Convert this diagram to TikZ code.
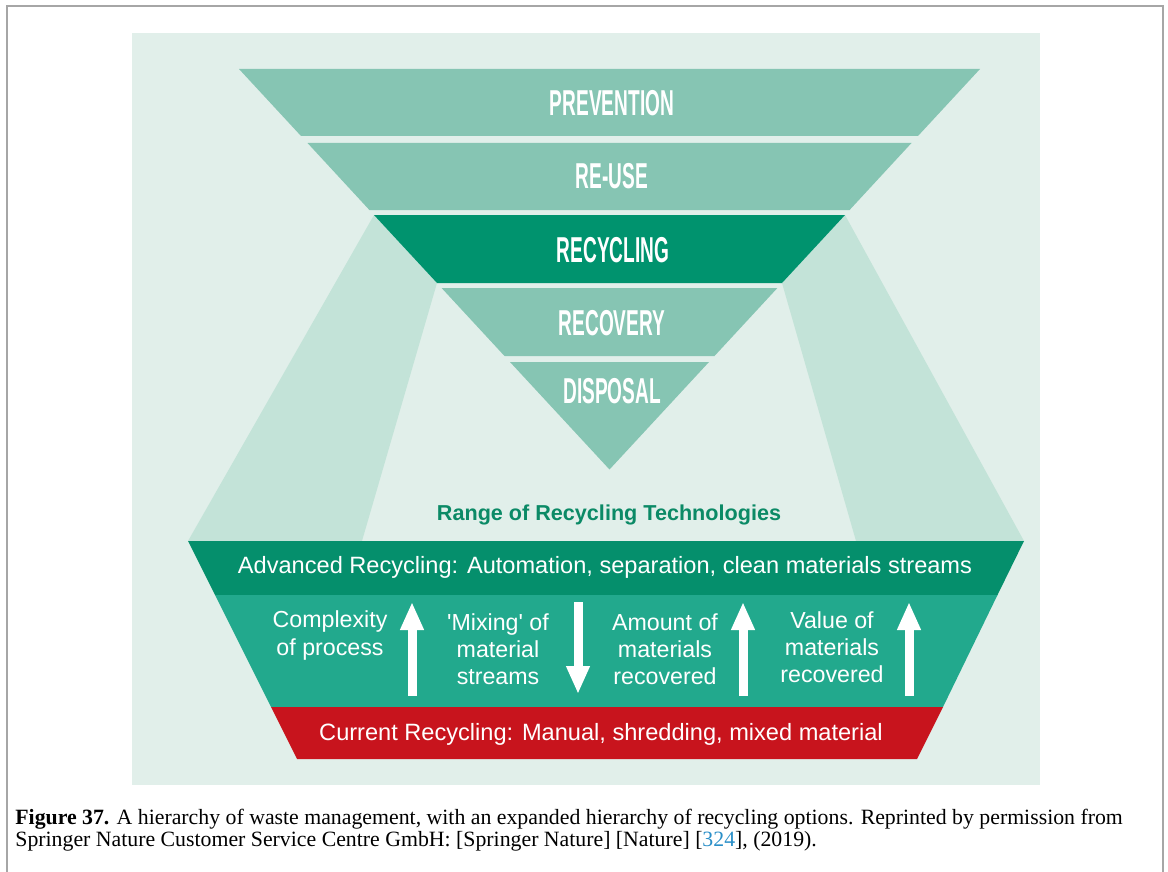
\documentclass[tikz,border=0pt]{standalone}
\usepackage{fontspec}
\setmainfont{Liberation Serif}
\newfontfamily\labelfont{Liberation Sans}
\newfontfamily\tierfont[FakeStretch=0.53]{Liberation Sans}
\usetikzlibrary{arrows.meta}

\definecolor{mintbg}{HTML}{E1EFEA}
\definecolor{tierlight}{HTML}{86C5B3}
\definecolor{tierdark}{HTML}{00936E}
\definecolor{wingmint}{HTML}{C3E3D8}
\definecolor{advgreen}{HTML}{058F6C}
\definecolor{midteal}{HTML}{22A98D}
\definecolor{currred}{HTML}{C8141D}
\definecolor{rangegreen}{HTML}{0B8A66}
\definecolor{refblue}{HTML}{2A8FC8}
\definecolor{framegray}{HTML}{A6A6A6}

\tikzset{
  tier/.style={text=white, font=\tierfont\bfseries\fontsize{18}{18}\selectfont},
  bandtext/.style={text=white, font=\labelfont\fontsize{11.8}{14}\selectfont},
  flowtext/.style={text=white, align=center, font=\labelfont\fontsize{11.6}{13.6}\selectfont},
  blockarrow/.style={white, line width=4.5pt, -{Triangle[width=11pt,length=14pt]}}
}

\begin{document}
\begin{tikzpicture}[x=0.5pt, y=-0.5pt]
    \useasboundingbox (0,0) rectangle (1168,872);

    % Draw frame and background
    \draw[framegray, line width=1pt] (7,872) -- (7,6) -- (1163,6) -- (1163,872);
    \fill[mintbg] (132,33) rectangle (1040,785);

    % Draw the wings joining recycling to the range of technologies
    \fill[wingmint] (374,215) -- (188,541) -- (362,541) -- (437,283) -- cycle;
    \fill[wingmint] (845,215) -- (1024,541) -- (856,541) -- (782,283) -- cycle;

    % Draw the inverted hierarchy, one band per tier
    \fill[tierlight] (239,69) -- (980,69) -- (918,136) -- (301,136) -- cycle;
    \fill[tierlight] (307.5,143) -- (911.5,143) -- (849.6,210) -- (369.4,210) -- cycle;
    \fill[tierdark] (374,215) -- (845,215) -- (782,283) -- (437,283) -- cycle;
    \fill[tierlight] (441.6,288) -- (777.4,288) -- (714.5,356) -- (504.5,356) -- cycle;
    \fill[tierlight] (510,362) -- (709,362) -- (609.5,469.5) -- cycle;

    \node[tier] (prevention) at (612,103) {PREVENTION};
    \node[tier] (reuse) at (612,176) {RE-USE};
    \node[tier] (recycling) at (613,250) {RECYCLING};
    \node[tier] (recovery) at (612,323) {RECOVERY};
    \node[tier] (disposal) at (612,391) {DISPOSAL};

    % Draw the expanded range of recycling options
    \node[text=rangegreen, font=\labelfont\bfseries\fontsize{10.8}{12}\selectfont] (range) at (609,515) {Range of Recycling Technologies};

    \fill[advgreen] (188,541) -- (1024,541) -- (997.5,595) -- (215,595) -- cycle;
    \fill[midteal] (215,595) -- (997.5,595) -- (943,707) -- (271,707) -- cycle;
    \fill[currred] (271,707) -- (943,707) -- (917,759) -- (297,759) -- cycle;

    \node[bandtext] (advanced) at (605,567) {Advanced Recycling: Automation, separation, clean materials streams};
    \node[bandtext] (current) at (601,734) {Current Recycling: Manual, shredding, mixed material};

    \node[flowtext] (complexity) at (330,635.5) {Complexity\\of process};
    \node[flowtext] (mixing) at (498,649.5) {\textquotesingle Mixing\textquotesingle{} of\\material\\streams};
    \node[flowtext] (amount) at (665,649.5) {Amount of\\materials\\recovered};
    \node[flowtext] (value) at (832,647) {Value of\\materials\\recovered};

    % Arrows show the direction of each trend
    \coordinate (complexity low) at (412,696);
    \coordinate (complexity high) at (412,602);
    \coordinate (mixing high) at (578,602);
    \coordinate (mixing low) at (578,694);
    \coordinate (amount low) at (743,696);
    \coordinate (amount high) at (743,602);
    \coordinate (value low) at (909,696);
    \coordinate (value high) at (909,602);
    \draw[blockarrow] (complexity low) -- (complexity high);
    \draw[blockarrow] (mixing high) -- (mixing low);
    \draw[blockarrow] (amount low) -- (amount high);
    \draw[blockarrow] (value low) -- (value high);

    % Caption
    \node[anchor=north west, align=left, inner sep=0pt, font=\fontsize{10.9}{10.8}\selectfont] (caption) at (15,809)
      {\textbf{Figure 37.} A hierarchy of waste management, with an expanded hierarchy of recycling options. Reprinted by permission from\\
       Springer Nature Customer Service Centre GmbH: [Springer Nature] [Nature] [\textcolor{refblue}{324}], (2019).};
\end{tikzpicture}
\end{document}
